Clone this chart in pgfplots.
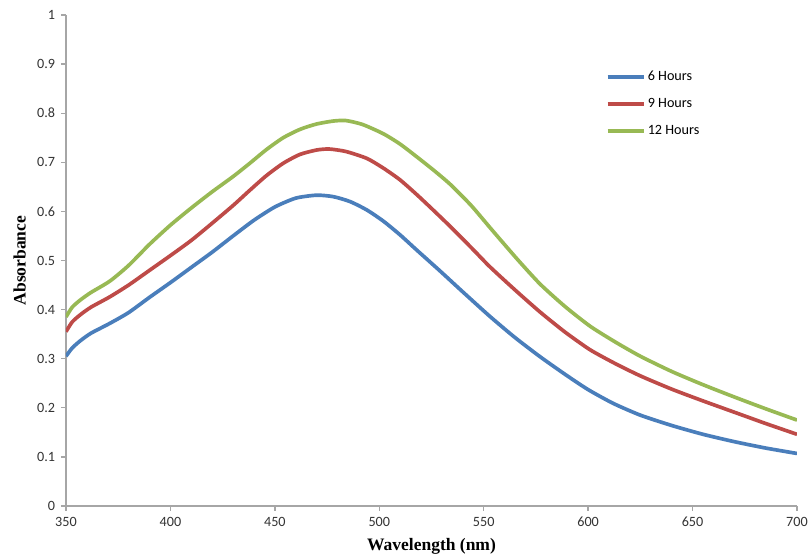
\documentclass[border=0pt]{standalone}
\usepackage{fontspec}
\setmainfont{Carlito}
\newfontfamily\tnr{Liberation Serif}
\usepackage{pgfplots}
\pgfplotsset{compat=1.18}

\definecolor{sixh}{HTML}{4A7EBB}
\definecolor{nineh}{HTML}{BE4B48}
\definecolor{twelveh}{HTML}{98B954}
\definecolor{axgray}{HTML}{A6A6A6}

\begin{document}
\begin{tikzpicture}
\begin{axis}[
    scale only axis,
    width=438.6pt, height=294.6pt,
    xmin=350, xmax=700, ymin=0, ymax=1,
    xtick distance=50, ytick distance=0.1,
    axis x line=bottom, axis y line=left,
    axis line style={-, axgray, line width=0.9pt},
    tick style={axgray, line width=0.8pt},
    tick align=outside, major tick length=3pt,
    /pgf/number format/assume math mode=true,
    ticklabel style={font=\fontsize{8.5}{10}\selectfont, text=black!80},
    xlabel={\tnr\bfseries Wavelength (nm)},
    ylabel={\tnr\bfseries Absorbance},
    label style={font=\fontsize{10.5}{12}\selectfont},
    legend style={draw=none, fill=none, at={(0.738,0.893)}, anchor=north west,
        font=\fontsize{8.5}{10}\selectfont, row sep=5pt, inner sep=0pt,
        nodes={inner xsep=1pt}},
    legend cell align=left,
    legend image code/.code={\draw[#1, line width=2.2pt] (0pt,0pt) -- (22pt,0pt);},
    every axis plot/.append style={line width=2.2pt, line join=round, smooth, tension=0.4},
]
\addplot[sixh] coordinates {
(350,0.305) (353,0.322) (357,0.337) (362,0.352) (371,0.372) (380,0.394)
(390,0.425) (400,0.455) (410,0.486) (420,0.517) (430,0.550) (440,0.582)
(450,0.609) (460,0.627) (470,0.633) (478,0.630) (486,0.620) (494,0.603)
(502,0.580) (510,0.552) (518,0.521) (529,0.479) (540,0.436) (553,0.386)
(565,0.343) (577,0.304) (589,0.268) (600,0.237) (612,0.209) (625,0.185)
(640,0.164) (655,0.146) (670,0.131) (685,0.118) (700,0.107)
};
\addplot[nineh] coordinates {
(350,0.355) (353,0.375) (357,0.390) (362,0.405) (371,0.426) (380,0.450)
(390,0.480) (400,0.510) (410,0.541) (420,0.576) (430,0.612) (438,0.643)
(446,0.673) (454,0.698) (462,0.716) (470,0.725) (476,0.727) (484,0.722)
(494,0.708) (502,0.688) (510,0.664) (518,0.634) (526,0.602) (535,0.565)
(545,0.522) (553,0.487) (565,0.440) (577,0.395) (589,0.354) (601,0.318)
(613,0.290) (625,0.265) (640,0.238) (655,0.214) (670,0.191) (685,0.168)
(700,0.146)
};
\addplot[twelveh] coordinates {
(350,0.385) (353,0.405) (357,0.420) (362,0.435) (371,0.458) (380,0.490)
(390,0.533) (400,0.572) (410,0.607) (420,0.640) (430,0.671) (438,0.698)
(446,0.726) (454,0.750) (462,0.767) (470,0.778) (478,0.784) (484,0.785)
(492,0.777) (502,0.758) (510,0.737) (518,0.711) (526,0.684) (534,0.655)
(544,0.612) (554,0.562) (566,0.503) (577,0.452) (589,0.406) (601,0.366)
(613,0.334) (625,0.305) (640,0.274) (655,0.247) (670,0.222) (685,0.198)
(700,0.175)
};
\legend{6 Hours, 9 Hours, 12 Hours}
\end{axis}
\pgfresetboundingbox
\path (-39.6pt,-30.6pt) rectangle (445.8pt,303.6pt);
\end{tikzpicture}
\end{document}
